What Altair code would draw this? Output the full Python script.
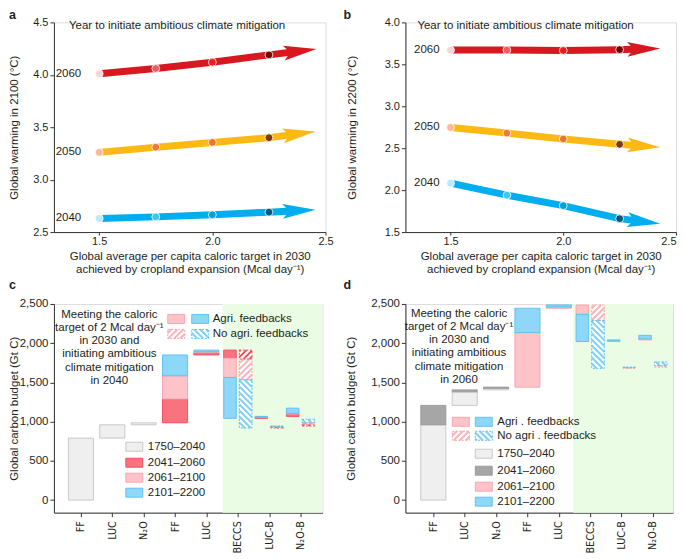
import math
import altair as alt
import pandas as pd

FONT = "Liberation Sans"
FONT_N = "Liberation Sans Narrow, Arial Narrow, DejaVu Sans Condensed, Liberation Sans"
INK = "#231f20"

# ---------------- panels a and b : warming vs caloric target ----------------
years = ["2060", "2050", "2040"]
targets = [1.5, 1.75, 2.0, 2.25]

a_2060 = [4.01, 4.06, 4.12, 4.19]
a_2050 = [3.26, 3.31, 3.355, 3.40]
a_2040 = [2.63, 2.645, 2.665, 2.69]
a_tip_x = [2.46, 2.456, 2.456]
a_tip_y = [4.245, 3.459, 2.713]

b_2060 = [3.67, 3.67, 3.665, 3.675]
b_2050 = [2.747, 2.68, 2.61, 2.546]
b_2040 = [2.083, 1.94, 1.815, 1.66]
b_tip_x = [2.43, 2.43, 2.43]
b_tip_y = [3.69, 2.51, 1.60]

arrow_colors = ["#d7181f", "#fdb913", "#00aeef"]
dots_2060 = ["#fdd3d4", "#f65a60", "#f21a1d", "#7a0304"]
dots_2050 = ["#fdb898", "#f47a31", "#e9772d", "#7d3b0c"]
dots_2040 = ["#b9eafd", "#3ec6f5", "#0a9fd4", "#005b7b"]

x_ticks_ab = [1.5, 2.0, 2.5]
a_yticks = [2.5, 3.0, 3.5, 4.0, 4.5]
b_yticks = [1.5, 2.0, 2.5, 3.0, 3.5, 4.0]

# ---------------- panels c and d : carbon budget waterfall ----------------
cat_labels = ["FF", "LUC", "N₂O", "FF", "LUC", "BECCS", "LUC-B", "N₂O-B"]
periods = ["1750–2040", "2041–2060", "2061–2100", "2101–2200"]

c_cat = [1, 2, 3, 4, 4, 4, 5, 5, 5, 6, 6, 6, 6, 6, 6, 7, 7, 7, 7, 7, 7, 8, 8, 8, 8, 8, 8]
c_slot = ["bar"] * 9 + ["agri"] * 3 + ["noagri"] * 3 + ["agri"] * 3 + ["noagri"] * 3 + ["agri"] * 3 + ["noagri"] * 3
c_period = ["1750–2040"] * 3 + ["2041–2060", "2061–2100", "2101–2200"] * 8
c_start = [0, 790, 960, 985, 1288, 1585, 1850, 1878, 1890, 1912, 1810, 1563, 1912, 1797, 1534,
           1042, 1057, 1061, 920, 930, 936, 1067, 1095, 1105, 945, 968, 985]
c_end = [790, 960, 985, 1288, 1585, 1850, 1878, 1890, 1912, 1810, 1563, 1042, 1797, 1534, 920,
         1057, 1061, 1067, 930, 936, 945, 1095, 1105, 1172, 968, 985, 1030]

d_cat = [1, 1, 2, 2, 3, 3, 4, 4, 5, 5, 6, 6, 6, 6, 7, 7, 7, 7, 8, 8, 8, 8]
d_slot = ["bar"] * 10 + ["agri", "agri", "noagri", "noagri"] * 3
d_period = ["1750–2040", "2041–2060"] * 3 + ["2061–2100", "2101–2200"] * 8
d_start = [0, 960, 1207, 1380, 1405, 1425, 1440, 2135, 2445, 2462, 2487, 2368, 2487, 2290,
           2021, 2030, 1680, 1688, 2042, 2055, 1695, 1712]
d_end = [960, 1207, 1380, 1405, 1425, 1440, 2135, 2445, 2462, 2487, 2368, 2021, 2290, 1680,
         2030, 2042, 1688, 1695, 2055, 2100, 1712, 1760]

c_fill = ["#efefef", "#f8737e", "#fec3c9", "#8ed7f9"]
c_edge = ["#c4c4c4", "#f2475a", "#f7a0a9", "#56c1ee"]
c_hatch = ["#d8d8d8", "#f24a5a", "#fbb3bb", "#80d0f6"]
d_fill = ["#efefef", "#a6a6a6", "#fec3c9", "#8ed7f9"]
d_edge = ["#c4c4c4", "#999999", "#f7a0a9", "#56c1ee"]
d_hatch = ["#d8d8d8", "#999999", "#fbb3bb", "#80d0f6"]

c_yticks = [0, 500, 1000, 1500, 2000, 2500]

meeting_c = ["Meeting the caloric", "target of 2 Mcal day⁻¹", "in 2030 and",
             "initiating ambitious", "climate mitigation", "in 2040"]
meeting_d = ["Meeting the caloric", "target of 2 Mcal day⁻¹", "in 2030 and",
             "initiating ambitious", "climate mitigation", "in 2060"]

HEAD = "M0,0L-2,-0.45L-1.6,0L-2,0.45Z"
HEAD_LEN = 33


def ax(**kw):
    base = dict(domainColor="#333333", tickColor="#333333", labelColor=INK, titleColor=INK,
                labelFont=FONT, titleFont=FONT, labelFontSize=11, titleFontSize=11.5,
                titleFontWeight="normal", grid=False, domainWidth=1, tickWidth=1,
                labelFlush=False, labelOverlap=False)
    base.update(kw)
    return alt.Axis(**base)


def letter_layer(letter, lx, ly):
    return alt.Chart(pd.DataFrame({"t": [letter]})).mark_text(
        align="left", baseline="middle", fontWeight="bold", fontSize=12.5, color=INK, font=FONT
    ).encode(x=alt.value(lx), y=alt.value(ly), text="t:N")


def arrow_panel(series, tips_x, tips_y, xdom, ydom, yticks, W, H, ytitle, ytitle_x,
                letter, letter_x, label_dx, ann_x, flush):
    sx = W / (xdom[1] - xdom[0])
    sy = H / (ydom[1] - ydom[0])
    line_rows, head_rows, dot_rows, lab_rows = [], [], [], []
    for k, (yr, vals, dcols) in enumerate(series):
        for i, (t, v) in enumerate(zip(targets, vals)):
            line_rows.append({"s": yr, "o": i, "x": t, "y": v})
            dot_rows.append({"x": t, "y": v, "c": dcols[i]})
        tx, ty = tips_x[k], tips_y[k]
        dxp = (tx - targets[-1]) * sx
        dyp = (ty - vals[-1]) * sy
        L = math.hypot(dxp, dyp)
        back = 20.0
        line_rows.append({"s": yr, "o": 9, "x": tx - back * dxp / L / sx, "y": ty - back * dyp / L / sy})
        head_rows.append({"s": yr, "x": tx, "y": ty,
                          "ang": math.degrees(math.atan2(-dyp, dxp)) % 360})
        lab_rows.append({"x": targets[0], "y": vals[0], "t": yr})

    X = alt.X("x:Q", scale=alt.Scale(domain=xdom, nice=False, zero=False),
              axis=ax(values=x_ticks_ab, format=".1f", tickSize=3, labelPadding=0, titlePadding=4,
                      titleLineHeight=13, labelFlush=flush,
                      title=["Global average per capita caloric target in 2030",
                             "achieved by cropland expansion (Mcal day⁻¹)"]))
    Y = alt.Y("y:Q", scale=alt.Scale(domain=ydom, nice=False, zero=False),
              axis=ax(values=yticks, format=".1f", tickSize=4, labelPadding=2, title=ytitle,
                      titleX=ytitle_x, titleY=H / 2, titleBaseline="middle"))
    col = alt.Color("s:N", scale=alt.Scale(domain=years, range=arrow_colors), legend=None)

    shaft = alt.Chart(pd.DataFrame(line_rows)).mark_line(strokeWidth=7, strokeCap="butt").encode(
        x=X, y=Y, color=col, order="o:Q")
    head = alt.Chart(pd.DataFrame(head_rows)).mark_point(
        shape=HEAD, size=HEAD_LEN ** 2, filled=True, opacity=1, strokeWidth=0).encode(
        x=X, y=Y, color=col, angle=alt.Angle("ang:Q", scale=None))
    dots = alt.Chart(pd.DataFrame(dot_rows)).mark_circle(
        size=62, opacity=1, stroke="white", strokeWidth=0.8).encode(
        x=X, y=Y, color=alt.Color("c:N", scale=None))
    labs = alt.Chart(pd.DataFrame(lab_rows)).mark_text(
        align="right", baseline="middle", dx=label_dx, fontSize=11.5, color=INK, font=FONT).encode(
        x=X, y=Y, text="t:N")
    ann = alt.Chart(pd.DataFrame({"t": ["Year to initiate ambitious climate mitigation"]})).mark_text(
        align="left", baseline="middle", fontSize=11.5, color=INK, font=FONT).encode(
        x=alt.value(ann_x), y=alt.value(4), text="t:N")
    return alt.layer(shaft, head, dots, labs, ann, letter_layer(letter, letter_x, -7)).properties(
        width=W, height=H)


def stripe_rows(x0, x1, y0, y1, d, color, xdom, ydom, W, H, step=6.0):
    sx = W / (xdom[1] - xdom[0])
    sy = H / (ydom[1] - ydom[0])
    px0, px1 = sorted([(x0 - xdom[0]) * sx, (x1 - xdom[0]) * sx])
    py0, py1 = sorted([(y0 - ydom[0]) * sy, (y1 - ydom[0]) * sy])
    rows = []

    def seg(xa, ya, xb, yb):
        rows.append({"x": xdom[0] + xa / sx, "y": ydom[0] + ya / sy,
                     "x2": xdom[0] + xb / sx, "y2": ydom[0] + yb / sy, "c": color})

    if d == "/":
        c = math.ceil((py0 - px1) / step) * step
        while c <= py1 - px0:
            xa = max(px0, py0 - c)
            xb = min(px1, py1 - c)
            if xb - xa > 0.3:
                seg(xa, xa + c, xb, xb + c)
            c += step
    else:
        c = math.ceil((px0 + py0) / step) * step
        while c <= px1 + py1:
            xa = max(px0, c - py1)
            xb = min(px1, c - py0)
            if xb - xa > 0.3:
                seg(xa, c - xa, xb, c - xb)
            c += step
    return rows


def carbon_panel(cats, slots, pers, starts, ends, fills, edges, hatches, W, H, xdom, ydom,
                 green_x0, letter, letter_x, ytitle_x, meet_lines, meet_x, meet_y,
                 agri_txt, noagri_txt, top_leg, bot_leg):
    sx = W / (xdom[1] - xdom[0])
    sy = H / (ydom[1] - ydom[0])

    def dx(px):
        return xdom[0] + px / sx

    def dy(py):
        return ydom[1] - py / sy

    solid, hatched, stripes = [], [], []
    for cat, slot, per, s, e in zip(cats, slots, pers, starts, ends):
        if slot == "bar":
            x0, x1 = cat - 0.4, cat + 0.4
        elif slot == "agri":
            x0, x1 = cat - 0.45, cat - 0.05
        else:
            x0, x1 = cat + 0.05, cat + 0.45
        k = periods.index(per)
        row = {"x": x0, "x2": x1, "y": min(s, e), "y2": max(s, e), "f": fills[k], "st": edges[k]}
        if slot == "noagri":
            hatched.append(row)
            stripes += stripe_rows(x0, x1, min(s, e), max(s, e), "\\" if k == 3 else "/",
                                   hatches[k], xdom, ydom, W, H)
        else:
            solid.append(row)

    # legends (pixel offsets inside the plot, converted to data space)
    texts = []
    lx_p, lx_b, ltx, r1, r2 = top_leg
    for (yc, hat, txt) in [(r1, False, agri_txt), (r2, True, noagri_txt)]:
        for (xa, k) in [(lx_p, 2), (lx_b, 3)]:
            row = {"x": dx(xa), "x2": dx(xa + 17), "y": dy(yc + 4.5), "y2": dy(yc - 4.5),
                   "f": fills[k], "st": edges[k]}
            if hat:
                hatched.append(row)
                stripes += stripe_rows(row["x"], row["x2"], row["y"], row["y2"],
                                       "\\" if k == 3 else "/", hatches[k], xdom, ydom, W, H)
            else:
                solid.append(row)
        texts.append({"x": dx(ltx), "y": dy(yc), "t": txt})
    bx, btx, rows_y = bot_leg
    for k, yc in enumerate(rows_y):
        solid.append({"x": dx(bx), "x2": dx(bx + 17), "y": dy(yc + 4.5), "y2": dy(yc - 4.5),
                      "f": fills[k], "st": edges[k]})
        texts.append({"x": dx(btx), "y": dy(yc), "t": periods[k]})

    X = alt.X("x:Q", scale=alt.Scale(domain=xdom, nice=False, zero=False),
              axis=ax(values=list(range(1, 9)), tickSize=4, labelPadding=4, labelAngle=270,
                      labelAlign="right", labelBaseline="middle", title=None, labelFontSize=10.8,
                      labelFont=FONT_N,
                      labelExpr="%s[datum.value - 1]" % str(cat_labels)))
    Y = alt.Y("y:Q", scale=alt.Scale(domain=ydom, nice=False, zero=False),
              axis=ax(values=c_yticks, format=",d", tickSize=4, labelPadding=2, labelFontSize=11.5,
                      title="Global carbon budget (Gt C)", titleX=ytitle_x, titleY=H / 2,
                      titleBaseline="middle"))
    X2 = alt.X2("x2")
    Y2 = alt.Y2("y2")

    green = alt.Chart(pd.DataFrame([{"x": green_x0, "x2": xdom[1], "y": ydom[0], "y2": ydom[1]}])).mark_rect(
        color="#eafce4").encode(x=X, x2=X2, y=Y, y2=Y2)
    solid_l = alt.Chart(pd.DataFrame(solid)).mark_rect(strokeWidth=0.9).encode(
        x=X, x2=X2, y=Y, y2=Y2, fill=alt.Fill("f:N", scale=None), stroke=alt.Stroke("st:N", scale=None))
    hat_bg = alt.Chart(pd.DataFrame(hatched)).mark_rect(color="white").encode(x=X, x2=X2, y=Y, y2=Y2)
    stripe_l = alt.Chart(pd.DataFrame(stripes)).mark_rule(strokeWidth=2, strokeCap="butt").encode(
        x=X, x2=X2, y=Y, y2=Y2, color=alt.Color("c:N", scale=None))
    hat_edge = alt.Chart(pd.DataFrame(hatched)).mark_rect(
        fillOpacity=0, strokeWidth=1, strokeDash=[2, 1.5]).encode(
        x=X, x2=X2, y=Y, y2=Y2, stroke=alt.Stroke("st:N", scale=None))
    text_l = alt.Chart(pd.DataFrame(texts)).mark_text(
        align="left", baseline="middle", fontSize=11.5, color=INK, font=FONT).encode(x=X, y=Y, text="t:N")
    meet = alt.Chart(pd.DataFrame({"k": [0]})).mark_text(
        text=meet_lines, align="center", baseline="top", lineHeight=13.2, fontSize=11.5,
        color=INK, font=FONT).encode(x=alt.value(meet_x), y=alt.value(meet_y))
    return alt.layer(green, solid_l, hat_bg, stripe_l, hat_edge, text_l, meet,
                     letter_layer(letter, letter_x, -19)).properties(width=W, height=H)


pa = arrow_panel([("2060", a_2060, dots_2060), ("2050", a_2050, dots_2050), ("2040", a_2040, dots_2040)],
                 a_tip_x, a_tip_y, [1.3, 2.5], [2.5, 4.5], a_yticks, 272, 210,
                 "Global warming in 2100 (°C)", -39, "a", -45, -18, 15, False)
pb = arrow_panel([("2060", b_2060, dots_2060), ("2050", b_2050, dots_2050), ("2040", b_2040, dots_2040)],
                 b_tip_x, b_tip_y, [1.3, 2.5], [1.5, 4.0], b_yticks, 271, 210,
                 "Global warming in 2200 (°C)", -52.5, "b", -62, -11, 12, True)
pc = carbon_panel(c_cat, c_slot, c_period, c_start, c_end, c_fill, c_edge, c_hatch, 269, 209,
                  [0.14, 8.70], [-160, 2500], 5.52, "c", -45, -39, meeting_c, 55.5, 5,
                  "Agri. feedbacks", "No agri. feedbacks",
                  (114, 138, 159, 15, 30), (72, 94, [143, 159, 174, 189]))
pd_ = carbon_panel(d_cat, d_slot, d_period, d_start, d_end, d_fill, d_edge, d_hatch, 268, 209,
                   [0.11, 8.64], [-160, 2500], 5.46, "d", -62, -54, meeting_d, 53.7, 4,
                   "Agri . feedbacks", "No agri . feedbacks",
                   (47, 70, 92, 118, 132), (70, 92, [150, 167, 183, 198]))

chart = alt.concat(pa, pb, pc, pd_, columns=2, spacing={"row": 72, "column": 80}, bounds="flush").properties(
    padding=0).configure_view(stroke=None).configure(font=FONT)

chart.save("out.html", embed_options={"renderer": "svg", "actions": False})
